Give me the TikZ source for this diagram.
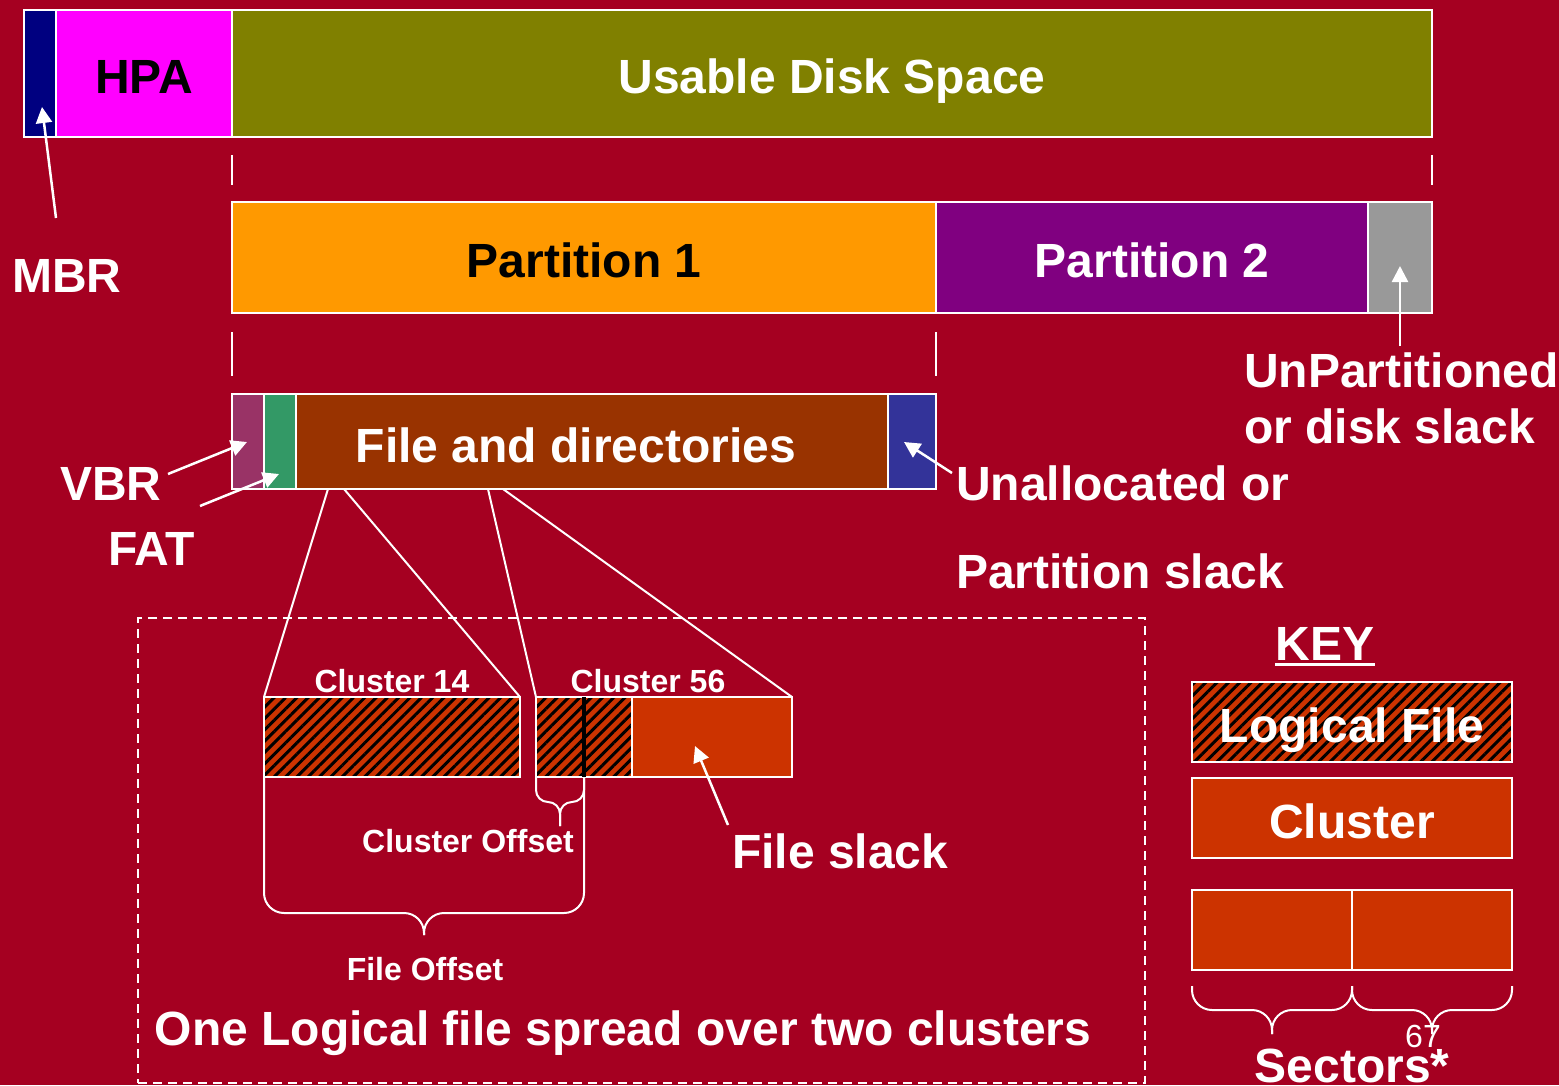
\documentclass[tikz,border=0pt]{standalone}
\usepackage{fontspec}
\setmainfont{Liberation Sans}
\usetikzlibrary{arrows.meta,patterns.meta,positioning,calc}

\definecolor{slidered}{HTML}{A50021}
\definecolor{mbrblue}{HTML}{000080}
\definecolor{hpapink}{HTML}{FF00FF}
\definecolor{diskolive}{HTML}{808000}
\definecolor{partorange}{HTML}{FF9900}
\definecolor{partpurple}{HTML}{800080}
\definecolor{slackgray}{HTML}{999999}
\definecolor{vbrplum}{HTML}{993366}
\definecolor{fatgreen}{HTML}{339966}
\definecolor{filebrown}{HTML}{993300}
\definecolor{unallocblue}{HTML}{333399}
\definecolor{clusterred}{HTML}{CC3300}

\tikzset{
  seg/.style={draw=white, line width=2pt, inner sep=0pt, outer sep=0pt, anchor=north west},
  logical/.style={seg, preaction={fill=clusterred}, pattern={Lines[angle=45,distance=8pt,line width=3pt]}, pattern color=black},
  boxtxt/.style={font=\fontsize{48}{56}\selectfont\bfseries, text=white, text height=40pt, text depth=0pt},
  biglbl/.style={font=\fontsize{48}{56}\selectfont\bfseries, text=white, inner sep=0pt},
  smalllbl/.style={font=\fontsize{32}{38}\selectfont\bfseries, text=white, inner sep=0pt},
  pointer/.style={white, line width=2.5pt, -{Triangle[width=16pt,length=16pt]}},
  fanline/.style={white, line width=2pt},
  bracket/.style={white, line width=2pt, rounded corners=#1},
}

\begin{document}
\begin{tikzpicture}[x=1pt,y=1pt,yscale=-1]
    \fill[slidered] (0,0) rectangle (1559,1085);
    \useasboundingbox (0,0) rectangle (1559,1085);

    % whole disk
    \node[seg, fill=mbrblue, minimum width=32pt, minimum height=127pt] (mbr) at (24,10) {};
    \node[seg, fill=hpapink, minimum width=176pt, minimum height=127pt, boxtxt, text=black] (hpa) at (mbr.north east) {HPA};
    \node[seg, fill=diskolive, minimum width=1200pt, minimum height=127pt, boxtxt] (usable) at (hpa.north east) {Usable Disk Space};
    \draw[fanline] ($(usable.south west)+(0,18)$) -- ++(0,30);
    \draw[fanline] ($(usable.south east)+(0,18)$) -- ++(0,30);

    % partitions
    \node[seg, fill=partorange, minimum width=704pt, minimum height=111pt, boxtxt, text=black] (part1) at (232,202) {Partition 1};
    \node[seg, fill=partpurple, minimum width=432pt, minimum height=111pt, boxtxt] (part2) at (part1.north east) {Partition 2};
    \node[seg, fill=slackgray, minimum width=64pt, minimum height=111pt] (unpart) at (part2.north east) {};
    \draw[fanline] ($(part1.south west)+(0,19)$) -- ++(0,44);
    \draw[fanline] ($(part1.south east)+(0,19)$) -- ++(0,44);

    % partition 1 layout
    \node[seg, fill=vbrplum, minimum width=32pt, minimum height=95pt] (vbr) at (232,394) {};
    \node[seg, fill=fatgreen, minimum width=32pt, minimum height=95pt] (fat) at (vbr.north east) {};
    \node[seg, fill=filebrown, minimum width=592pt, minimum height=95pt] (files) at (fat.north east) {};
    \node[seg, fill=unallocblue, minimum width=48pt, minimum height=95pt] (unalloc) at (files.north east) {};
    \node[boxtxt, inner sep=0pt] (fileslbl) at (576,442) {File and directories};

    % labels and pointers
    \node[biglbl, anchor=base west] (mbrlbl) at (12,292) {MBR};
    \coordinate (mbrfoot) at (56,218);
    \draw[pointer] (mbrfoot) -- (42,107);
    \node[biglbl, anchor=north west, align=left] (unpartlbl) at (1244,353) {UnPartitioned\\or disk slack};
    \coordinate (unpartfoot) at (1400,346);
    \draw[pointer] (unpartfoot) -- (1400,266);
    \node[biglbl, anchor=base west] (vbrlbl) at (60,500) {VBR};
    \coordinate (vbrfoot) at (168,474);
    \draw[pointer] (vbrfoot) -- (247,442);
    \node[biglbl, anchor=base west] (fatlbl) at (108,565) {FAT};
    \coordinate (fatfoot) at (200,506);
    \draw[pointer] (fatfoot) -- (279,474);
    \node[biglbl, anchor=north west, align=left, font=\fontsize{48}{88}\selectfont\bfseries] (unalloclbl) at (956,466) {Unallocated or\\Partition slack};
    \coordinate (unallocfoot) at (952,473);
    \draw[pointer] (unallocfoot) -- (904,442);

    % one file over two clusters
    \node[draw=white, line width=2pt, dash pattern=on 9pt off 6pt, inner sep=0pt, anchor=north west, minimum width=1007pt, minimum height=465pt] (spread) at (137,617) {};
    \node[logical, minimum width=256pt, minimum height=80pt] (cl14) at (264,697) {};
    \node[seg, fill=clusterred, minimum width=256pt, minimum height=80pt] (cl56) at (536,697) {};
    \node[logical, minimum width=96pt, minimum height=80pt] (cl56used) at (cl56.north west) {};
    \coordinate (offset) at ($(cl56.south west)+(48,0)$);
    \draw[black, line width=4pt] ($(cl56.north west)+(48,0)$) -- (offset);
    \draw[fanline] ($(files.south west)+(32,0)$) -- (cl14.north west);
    \draw[fanline] ($(files.south west)+(48,0)$) -- (cl14.north east);
    \draw[fanline] ($(files.south west)+(192,0)$) -- (cl56.north west);
    \draw[fanline] ($(files.south west)+(207,0)$) -- (cl56.north east);
    \node[smalllbl, anchor=base] (cl14lbl) at (392,692) {Cluster 14};
    \node[smalllbl, anchor=base] (cl56lbl) at (648,692) {Cluster 56};

    \draw[bracket=12pt] (cl56.south west) |- (560,802) -- (560,826);
    \draw[bracket=12pt] (offset) |- (560,802) -- (560,826);
    \node[smalllbl, anchor=base] (offsetlbl) at (468,852) {Cluster Offset};
    \draw[bracket=20pt] (cl14.south west) |- (424,913) -- (424,935);
    \draw[bracket=20pt] (offset) |- (424,913) -- (424,935);
    \node[smalllbl, anchor=base] (fileoffsetlbl) at (425,980) {File Offset};

    \coordinate (slackfoot) at (728,825);
    \draw[pointer] (slackfoot) -- (695,746);
    \node[biglbl, anchor=base west] (slacklbl) at (732,868) {File slack};
    \node[biglbl, anchor=base] (spreadlbl) at (623,1045) {One Logical file spread over two clusters};

    % key
    \node[biglbl, anchor=base] (keylbl) at (1325,660) {KEY};
    \draw[white, line width=3pt] ($(keylbl.base west)+(0,4)$) -- ($(keylbl.base east)+(0,4)$);
    \node[logical, minimum width=320pt, minimum height=80pt, boxtxt] (keyfile) at (1192,682) {Logical File};
    \node[seg, fill=clusterred, minimum width=320pt, minimum height=80pt, boxtxt] (keycluster) at (1192,778) {Cluster};
    \node[seg, fill=clusterred, minimum width=160pt, minimum height=80pt] (sectorA) at (1192,890) {};
    \node[seg, fill=clusterred, minimum width=160pt, minimum height=80pt] (sectorB) at (sectorA.north east) {};
    \draw[bracket=20pt] ($(sectorA.south west)+(0,16)$) |- (1272,1010) -- (1272,1034);
    \draw[bracket=20pt] ($(sectorA.south east)+(0,16)$) |- (1272,1010) -- (1272,1034);
    \draw[bracket=20pt] ($(sectorB.south west)+(0,16)$) |- (1432,1010) -- (1432,1034);
    \draw[bracket=20pt] ($(sectorB.south east)+(0,16)$) |- (1432,1010) -- (1432,1034);
    \node[anchor=base, inner sep=0pt, text=white, font=\fontsize{32}{38}\selectfont] (pagenum) at (1423,1047) {67};
    \node[biglbl, anchor=base] (sectorslbl) at (1352,1082) {Sectors*};

\end{tikzpicture}
\end{document}
